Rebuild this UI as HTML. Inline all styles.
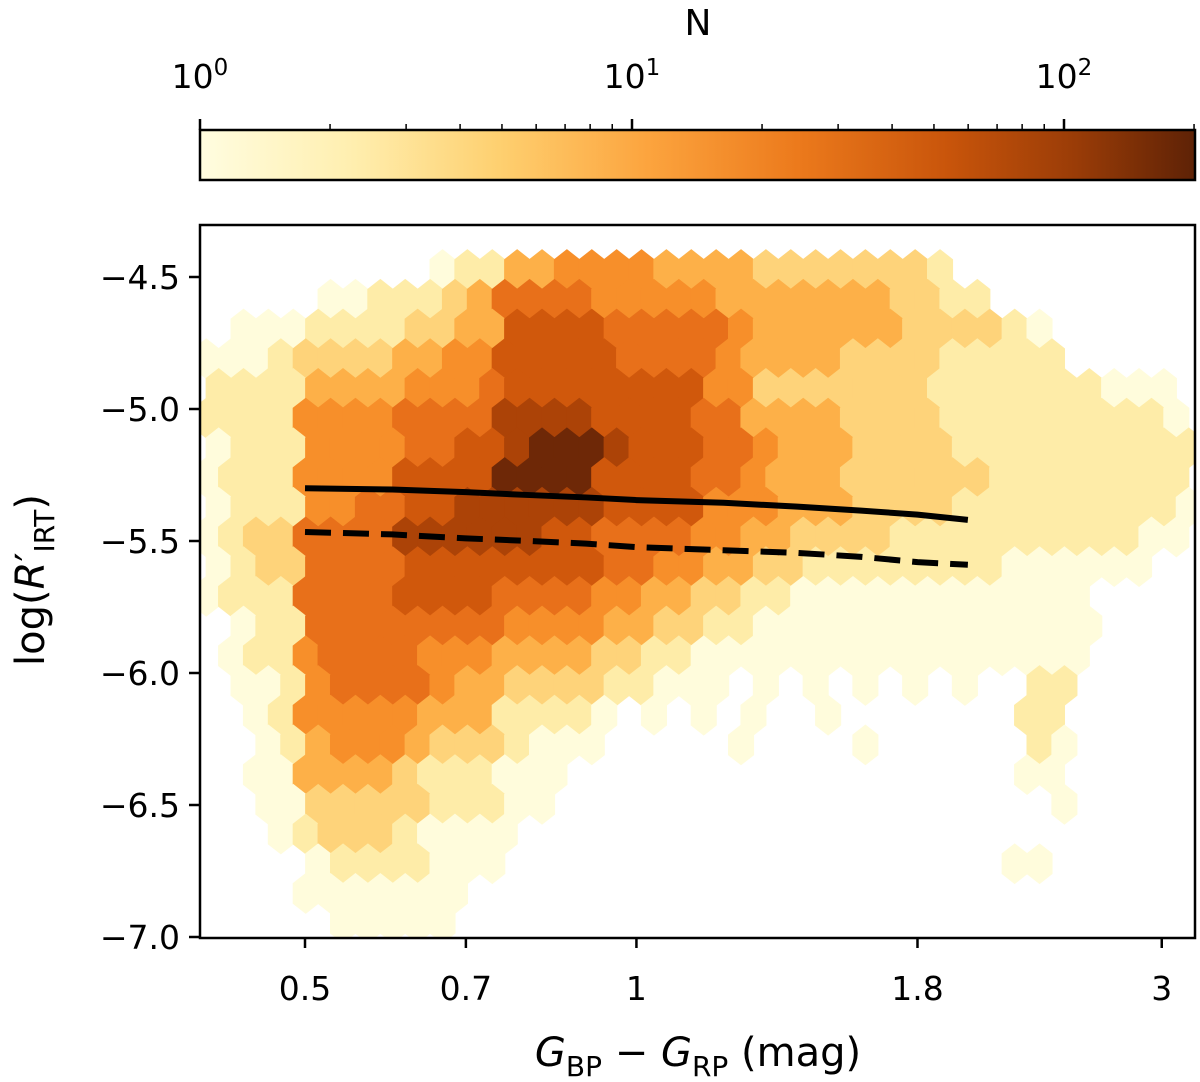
<!DOCTYPE html>
<html><head><meta charset="utf-8">
<style>
body{margin:0;background:#fff;}
svg{display:block;font-family:"DejaVu Sans","Liberation Sans",sans-serif;}
</style></head>
<body>
<svg id="chart" width="1200" height="1082" viewBox="0 0 1200 1082">
<defs>
<linearGradient id="cbgrad" x1="0" x2="1" y1="0" y2="0">
<stop offset="0" stop-color="#fffde0"/><stop offset="0.15" stop-color="#ffefb0"/><stop offset="0.3" stop-color="#fed070"/>
<stop offset="0.45" stop-color="#fca43e"/><stop offset="0.6" stop-color="#ec7a1c"/><stop offset="0.75" stop-color="#c9550b"/>
<stop offset="0.88" stop-color="#9a3c07"/><stop offset="1" stop-color="#5e2206"/>
</linearGradient>
<clipPath id="plotclip"><rect x="200" y="225" width="995" height="713"/></clipPath>
</defs>
<g id="hexes" clip-path="url(#plotclip)"></g>
<g id="lines"></g>
<rect x="200" y="225" width="995" height="713" fill="none" stroke="#000" stroke-width="2.5"/>
<g id="axes"></g>
<rect x="200" y="130" width="995" height="50" fill="url(#cbgrad)" stroke="#000" stroke-width="2.5"/>
<g id="cbaxis"></g>
<text x="698" y="35" font-size="36" text-anchor="middle">N</text>
<text transform="translate(44,580) rotate(-90)" font-size="40" text-anchor="middle">log(<tspan font-style="italic">R</tspan>′<tspan font-size="28" dy="10">IRT</tspan><tspan dy="-10">)</tspan></text>
<text x="698" y="1066" font-size="40" text-anchor="middle"><tspan font-style="italic">G</tspan><tspan font-size="28" dy="10">BP</tspan><tspan dy="-10"> − </tspan><tspan font-style="italic">G</tspan><tspan font-size="28" dy="10">RP</tspan><tspan dy="-10"> (mag)</tspan></text>
</svg>
<script>
const xTicks=[0.5,0.7,1,1.8,3];
const xTickLabels=["0.5","0.7","1","1.8","3"];
const yTicks=[-4.5,-5.0,-5.5,-6.0,-6.5,-7.0];
const yTickLabels=["−4.5","−5.0","−5.5","−6.0","−6.5","−7.0"];
const cbTicks=[1,10,100];
const cbMinor=[2,3,4,5,6,7,8,9,20,30,40,50,60,70,80,90,200];
const solidX=[0.5,0.6,0.7,0.8,0.9,1.0,1.2,1.4,1.6,1.8,2.0];
const solidY=[-5.30,-5.305,-5.315,-5.326,-5.335,-5.345,-5.355,-5.37,-5.385,-5.40,-5.42];
const dashX=[0.5,0.6,0.7,0.8,0.9,1.0,1.2,1.4,1.6,1.8,2.0];
const dashY=[-5.466,-5.475,-5.49,-5.50,-5.51,-5.523,-5.535,-5.545,-5.56,-5.58,-5.59];
const levelColors=["none","#fffcdc","#feeca8","#fed37a","#fdb048","#f78f2a","#e8701a","#d0580c","#ac4307","#6e2807"];
const hexGrid=[
"0000000000000000000000000000000000000000",
"0000000001224455554444333333320000000000",
"0000011222346666555554444444332200000000",
"0111222233447777666665444444333321000000",
"1112333344557777766665444433332222200000",
"2222444455567777777755333333322222221110",
"2222555566668888777766444433332222222221",
"1222555566778999877766544433332222222222",
"1222555577779999777766544433333322222222",
"1222556677888888777755544433332222222221",
"1233666688888877666655443333222222222211",
"1233666677777777665544332222222211111100",
"1222666677776666554433221111111111110000",
"0122666666665555443322111111111111110000",
"0122566665554444332211111111111111110000",
"0112566665443333221110101010101002200000",
"0012555554442222101010100100000002200000",
"0012455543332111000001000010000002100000",
"0011444432221110000000000000000001100000",
"0011333332221100000000000000000000100000",
"0001233321111000000000000000000000000000",
"0000122221110000000000000000000011000000",
"0000111111100000000000000000000000000000",
"0000011111000000000000000000000000000000"];
const NS="http://www.w3.org/2000/svg";
const X0=200,X1=1195,Y0=225,Y1=938;
const lxMin=Math.log10(0.5)-105/1101, pxPerDec=1101;
function xScale(v){return X0+(Math.log10(v)-lxMin)*pxPerDec;}
function yScale(v){return 937+(v-(-7.0))*(-264);}
function cbScale(v){return 200+Math.log10(v)*432;}
function mk(tag,attrs,parent){const e=document.createElementNS(NS,tag);for(const k in attrs)e.setAttribute(k,attrs[k]);parent.appendChild(e);return e;}
const hg=document.getElementById('hexes');
const cols=hexGrid[0].length, rows=hexGrid.length;
const cw=(X1-X0)/cols, rh=(Y1-Y0)/rows;
for(let j=0;j<rows;j++){for(let i=0;i<cols;i++){
 const lv=+hexGrid[j][i]; if(!lv) continue;
 const cx=X0+cw*(i+0.5)+(j%2?cw/4:-cw/4), cy=Y0+rh*(j+0.5);
 const hw=cw/2+0.6, hh=rh*2/3+0.6;
 const pts=[[cx,cy-hh],[cx+hw,cy-hh/2],[cx+hw,cy+hh/2],[cx,cy+hh],[cx-hw,cy+hh/2],[cx-hw,cy-hh/2]].map(p=>p.join(',')).join(' ');
 const p=mk('polygon',{points:pts,fill:levelColors[lv]},hg);
 
 
}}
const lg=document.getElementById('lines');
const s=mk('polyline',{points:solidX.map((x,k)=>xScale(x)+','+yScale(solidY[k])).join(' '),fill:'none',stroke:'#000','stroke-width':6},lg);


const d=mk('polyline',{points:dashX.map((x,k)=>xScale(x)+','+yScale(dashY[k])).join(' '),fill:'none',stroke:'#000','stroke-width':6,'stroke-dasharray':'26,12'},lg);


const ag=document.getElementById('axes');
xTicks.forEach((v,k)=>{const x=xScale(v);
 const t=mk('line',{x1:x,x2:x,y1:938,y2:948,stroke:'#000','stroke-width':2.5},ag);
 
 
 const l=mk('text',{x:x,y:1000,'font-size':33,'text-anchor':'middle'},ag);l.textContent=xTickLabels[k];
 
 
});
yTicks.forEach((v,k)=>{const y=yScale(v);
 const t=mk('line',{x1:189,x2:200,y1:y,y2:y,stroke:'#000','stroke-width':2.5},ag);
 
 
 const l=mk('text',{x:180,y:y+12,'font-size':33,'text-anchor':'end'},ag);l.textContent=yTickLabels[k];
 
 
});
const cg=document.getElementById('cbaxis');
cbTicks.forEach((v,k)=>{const x=cbScale(v);
 const t=mk('line',{x1:x,x2:x,y1:130,y2:119,stroke:'#000','stroke-width':2.5},cg);
 
 
 const l=mk('text',{x:x,y:88,'font-size':33,'text-anchor':'middle'},cg);
 l.innerHTML='10<tspan font-size="23" dy="-13">'+k+'</tspan>';
 
 
});
cbMinor.forEach(v=>{const x=cbScale(v); if(x>1195) return;
 const t=mk('line',{x1:x,x2:x,y1:130,y2:124,stroke:'#000','stroke-width':1.5},cg);
 
 
});
</script>
</body></html>
